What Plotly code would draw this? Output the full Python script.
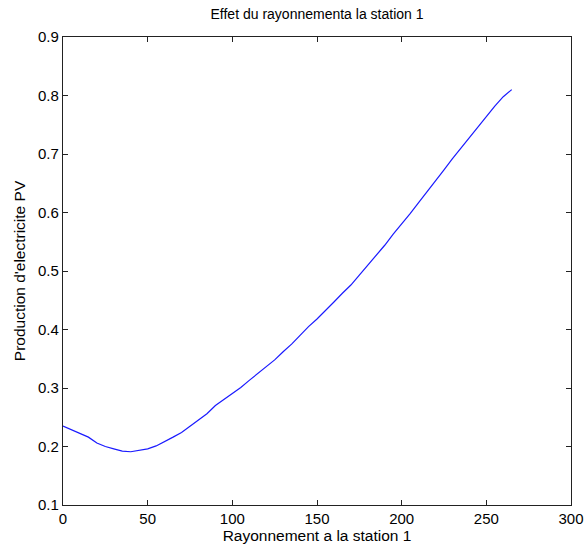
import plotly.graph_objects as go

rayonnement = [0, 5, 10, 15, 20, 25, 30, 35, 40, 45, 50, 55, 60, 65, 70, 75, 80, 85, 90, 95,
               100, 105, 110, 115, 120, 125, 130, 135, 140, 145, 150, 155, 160, 165, 170, 175,
               180, 185, 190, 195, 200, 205, 210, 215, 220, 225, 230, 235, 240, 245, 250, 255,
               260, 265]
production = [0.235, 0.229, 0.222, 0.216, 0.206, 0.200, 0.196, 0.192, 0.191, 0.193, 0.196,
              0.201, 0.208, 0.216, 0.224, 0.235, 0.245, 0.256, 0.270, 0.280, 0.290, 0.301,
              0.313, 0.325, 0.336, 0.348, 0.362, 0.375, 0.390, 0.405, 0.418, 0.432, 0.447,
              0.462, 0.476, 0.493, 0.510, 0.526, 0.544, 0.563, 0.580, 0.598, 0.617, 0.635,
              0.653, 0.673, 0.692, 0.710, 0.729, 0.748, 0.765, 0.782, 0.798, 0.810]

title = "Effet du rayonnementa la station 1"
xlabel = "Rayonnement a la station 1"
ylabel = "Production d'electricite PV"

font_family = "Liberation Sans, Arial, Helvetica, sans-serif"

fig = go.Figure()
fig.add_trace(go.Scatter(x=rayonnement, y=production, mode="lines",
                         line=dict(color="#1a1aff", width=1.2), showlegend=False))

axis_common = dict(showgrid=False, zeroline=False, showline=True, linecolor="#222222",
                   linewidth=1.2, mirror="ticks", ticks="inside", ticklen=5,
                   tickcolor="#222222", automargin=False,
                   tickfont=dict(size=15, color="black", family=font_family))

fig.update_layout(
    width=587, height=554,
    margin=dict(l=63, r=16, t=37, b=49),
    paper_bgcolor="white", plot_bgcolor="white",
    title=dict(text=title, x=0.5, xanchor="center", xref="paper",
               y=1 - 14 / 554, yanchor="middle", yref="container",
               font=dict(size=14, color="black", family=font_family)),
    xaxis=dict(range=[0, 300], tickvals=[0, 50, 100, 150, 200, 250, 300],
               title=dict(text=xlabel, standoff=4,
                          font=dict(size=15.5, color="black", family=font_family)),
               **axis_common),
    yaxis=dict(range=[0.1, 0.9], tickvals=[0.1, 0.2, 0.3, 0.4, 0.5, 0.6, 0.7, 0.8, 0.9],
               tickformat=".1f",
               title=dict(text=ylabel, standoff=8,
                          font=dict(size=15.5, color="black", family=font_family)),
               **axis_common),
)

fig.write_html("out.html", config={"displayModeBar": False},
               post_script="document.body.style.margin='0';")
